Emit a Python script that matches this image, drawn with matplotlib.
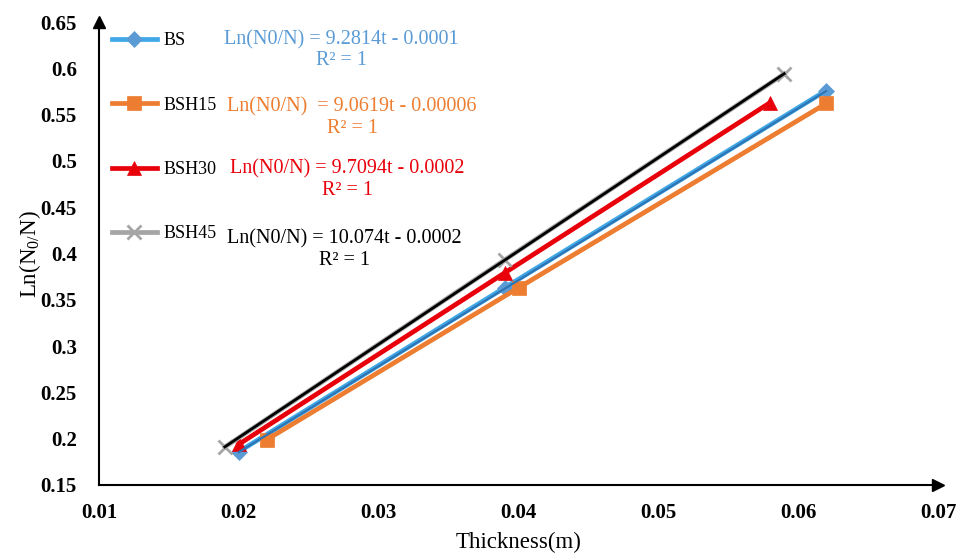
import matplotlib.pyplot as plt
import numpy as np

plt.rcParams['font.family'] = ['Liberation Serif', 'DejaVu Serif']
plt.rcParams['mathtext.fontset'] = 'custom'
plt.rcParams['mathtext.rm'] = 'Liberation Serif'

labels = ['BS', 'BSH15', 'BSH30', 'BSH45']
x_bs = [0.020, 0.039, 0.062]
y_bs = [0.186, 0.363, 0.576]
x_bsh15 = [0.022, 0.040, 0.062]
y_bsh15 = [0.199, 0.363, 0.562]
x_bsh30 = [0.020, 0.039, 0.058]
y_bsh30 = [0.194, 0.379, 0.563]
x_bsh45 = [0.019, 0.039, 0.059]
y_bsh45 = [0.191, 0.393, 0.594]
slopes = [9.2814, 9.0619, 9.7094, 10.074]
intercepts = [-0.0001, -0.00006, -0.0002, -0.0002]
equations = ['Ln(N0/N) = 9.2814t - 0.0001\nR² = 1',
             'Ln(N0/N)  = 9.0619t - 0.00006\nR² = 1',
             'Ln(N0/N) = 9.7094t - 0.0002\nR² = 1',
             'Ln(N0/N) = 10.074t - 0.0002\nR² = 1']
xticks = [0.01, 0.02, 0.03, 0.04, 0.05, 0.06, 0.07]
yticks = [0.15, 0.2, 0.25, 0.3, 0.35, 0.4, 0.45, 0.5, 0.55, 0.6, 0.65]

xs = [x_bs, x_bsh15, x_bsh30, x_bsh45]
ys = [y_bs, y_bsh15, y_bsh30, y_bsh45]
line_colors = ['#40A8E6', '#ED7D31', '#E8000B', '#A5A5A5']
trend_colors = ['#2E75B6', '#ED7D31', '#E8000B', 'black']
marker_colors = ['#5B9BD5', '#ED7D31', '#E8000B', '#A5A5A5']
eq_colors = ['#5B9BD5', '#ED7D31', '#E8000B', 'black']
markers = ['D', 's', '^', 'x']
msizes = [8, 9.5, 9.5, 10]
eq_pos = [(0.289, 0.9395), (0.3016, 0.793), (0.2956, 0.659), (0.2926, 0.508)]

fig = plt.figure(figsize=(9.57, 5.55), dpi=100)
ax = fig.add_axes([99 / 957, 1 - 485 / 555, 839 / 957, 463 / 555])

for i in range(4):
    ax.plot(xs[i], ys[i], color=line_colors[i], lw=3.4, marker=markers[i],
            markersize=msizes[i], markerfacecolor=marker_colors[i],
            markeredgecolor=marker_colors[i], markeredgewidth=2 if markers[i] == 'x' else 0.5,
            label=labels[i], zorder=2)
    t = np.array([min(xs[i]), max(xs[i])])
    ax.plot(t, slopes[i] * t + intercepts[i], color=trend_colors[i],
            lw=[1.6, 2.4, 2.4, 2.0][i], zorder=3)
    ax.text(eq_pos[i][0], eq_pos[i][1], equations[i], transform=ax.transAxes,
            color=eq_colors[i], fontsize=14.5, ha='center', va='center', linespacing=1.15)

ax.set_xlim(0.01, 0.07)
ax.set_ylim(0.15, 0.65)
ax.set_xticks(xticks, [f'{v:g}' for v in xticks])
ax.set_yticks(yticks, [f'{v:g}' for v in yticks])
ax.tick_params(length=0, labelsize=15)
ax.tick_params(axis='x', pad=13)
ax.tick_params(axis='y', pad=16)
for lab in ax.get_xticklabels() + ax.get_yticklabels():
    lab.set_fontweight('bold')
ax.spines['top'].set_visible(False)
ax.spines['right'].set_visible(False)
ax.spines['left'].set_linewidth(1.5)
ax.spines['bottom'].set_linewidth(1.5)
ax.plot(1, 0, '>k', markersize=8, transform=ax.transAxes, clip_on=False)
ax.plot(0, 1, '^k', markersize=8, transform=ax.transAxes, clip_on=False)

ax.set_xlabel('Thickness(m)', fontsize=16.5, labelpad=6)
ax.set_ylabel(r'Ln(N$_\mathregular{0/}$N)', fontsize=16.5, labelpad=-2)

ax.legend(loc='upper left', bbox_to_anchor=(0.0, 1.005), frameon=False, fontsize=13,
          handlelength=2.5, handletextpad=0.35, labelspacing=2.62, borderaxespad=0.3)

fig.savefig('out.png', dpi=100)
